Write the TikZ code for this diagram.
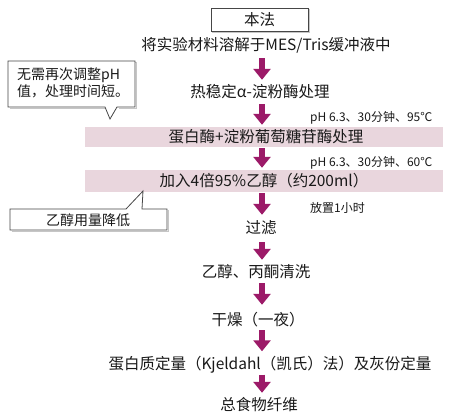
\documentclass[tikz,border=0pt]{standalone}
\usepackage{fontspec}
\setmainfont{Noto Sans CJK SC}
\usetikzlibrary{arrows.meta}
\definecolor{arrowc}{RGB}{156,26,104}
\definecolor{bandc}{RGB}{233,214,221}
\definecolor{txt}{RGB}{25,25,25}
\definecolor{edge}{RGB}{70,70,70}
\tikzset{
  main/.style={inner sep=0pt, minimum height=16pt, text=txt, font=\fontsize{15.5}{17}\selectfont},
  note/.style={inner sep=0pt, anchor=west, text=txt, font=\fontsize{12}{13}\selectfont},
  band/.style={fill=bandc, inner sep=0pt, minimum width=358pt, text=txt, font=\fontsize{15.5}{17}\selectfont},
  arr/.style={draw=arrowc, line width=6.5pt, -{Triangle[width=17pt,length=11pt]}},
  bubble/.style={draw=edge, fill=white, line width=0.8pt, line join=miter},
  shade/.style={draw=gray!45, line width=1.2pt},
  ctext/.style={inner sep=0pt, text=txt, font=\fontsize{14}{17}\selectfont, align=left}
}
\begin{document}
\begin{tikzpicture}[x=1pt,y=-1pt]
\useasboundingbox[fill=white] (0,0) rectangle (458,419);
\coordinate (ax) at (262,0);

% top box
\draw[shade] (212.5,9.5) rectangle (309.5,32.5);
\node[main, draw=edge, fill=white, line width=0.8pt, minimum width=97pt, minimum height=23pt] (t0) at (259.5,19.5) {本法};

\node[main] (t1) at (266,45) {将实验材料溶解于MES/Tris缓冲液中};
\node[main] (t2) at (260,92) {热稳定α-淀粉酶处理};
\node[band, minimum height=20pt] (b1) at (264,137) {\hspace{4pt}蛋白酶+淀粉葡萄糖苷酶处理};
\node[band, minimum height=22pt] (b2) at (264,181) {加入4倍95\%乙醇（约200ml）};
\node[main] (t4) at (261,228) {过滤};
\node[main] (t5) at (256,272) {乙醇、丙酮清洗};
\node[main] (t6) at (258,320) {干燥（一夜）};
\node[main] (t7) at (270,365) {蛋白质定量（Kjeldahl（凯氏）法）及灰份定量};
\node[main] (t8) at (259,405) {总食物纤维};

\node[note] (n1) at (310,118) {pH 6.3、30分钟、95℃};
\node[note] (n2) at (310,163) {pH 6.3、30分钟、60℃};
\node[note] (n3) at (310,208) {放置1小时};

\draw[arr, shorten <=5pt, shorten >=4pt] (t1.south -| ax) -- (t2.north -| ax);
\draw[arr, shorten <=4pt, shorten >=2pt] (t2.south -| ax) -- (b1.north -| ax);
\draw[arr, shorten <=1pt, shorten >=2pt] (b1.south -| ax) -- (b2.north -| ax);
\draw[arr, shorten <=1pt, shorten >=5pt] (b2.south -| ax) -- (t4.north -| ax);
\draw[arr, shorten <=6pt, shorten >=4pt] (t4.south -| ax) -- (t5.north -| ax);
\draw[arr, shorten <=3pt, shorten >=7pt] (t5.south -| ax) -- (t6.north -| ax);
\draw[arr, shorten <=2pt, shorten >=5pt] (t6.south -| ax) -- (t7.north -| ax);
\draw[arr, shorten <=1pt, shorten >=4pt] (t7.south -| ax) -- (t8.north -| ax);

% callout 1
\draw[shade] (9.5,62.5) -- (136.5,62.5) -- (136.5,108.5) -- (118.5,108.5);
\draw[shade] (106.5,108.5) -- (9.5,108.5);
\draw[bubble] (8,61) -- (135,61) -- (135,107) -- (117,107) -- (110,119) -- (105,107) -- (8,107) -- cycle;
\node[ctext, anchor=north west] (c1) at (17,68) {无需再次调整pH\\值，处理时间短。};

% callout 2
\draw[shade] (11.5,231.5) -- (168.5,231.5) -- (168.5,210.5);
\draw[bubble] (10,209) -- (126,209) -- (143,191) -- (142,209) -- (167,209) -- (167,230) -- (10,230) -- cycle;
\node[ctext] (c2) at (88,220) {乙醇用量降低};
\end{tikzpicture}
\end{document}
